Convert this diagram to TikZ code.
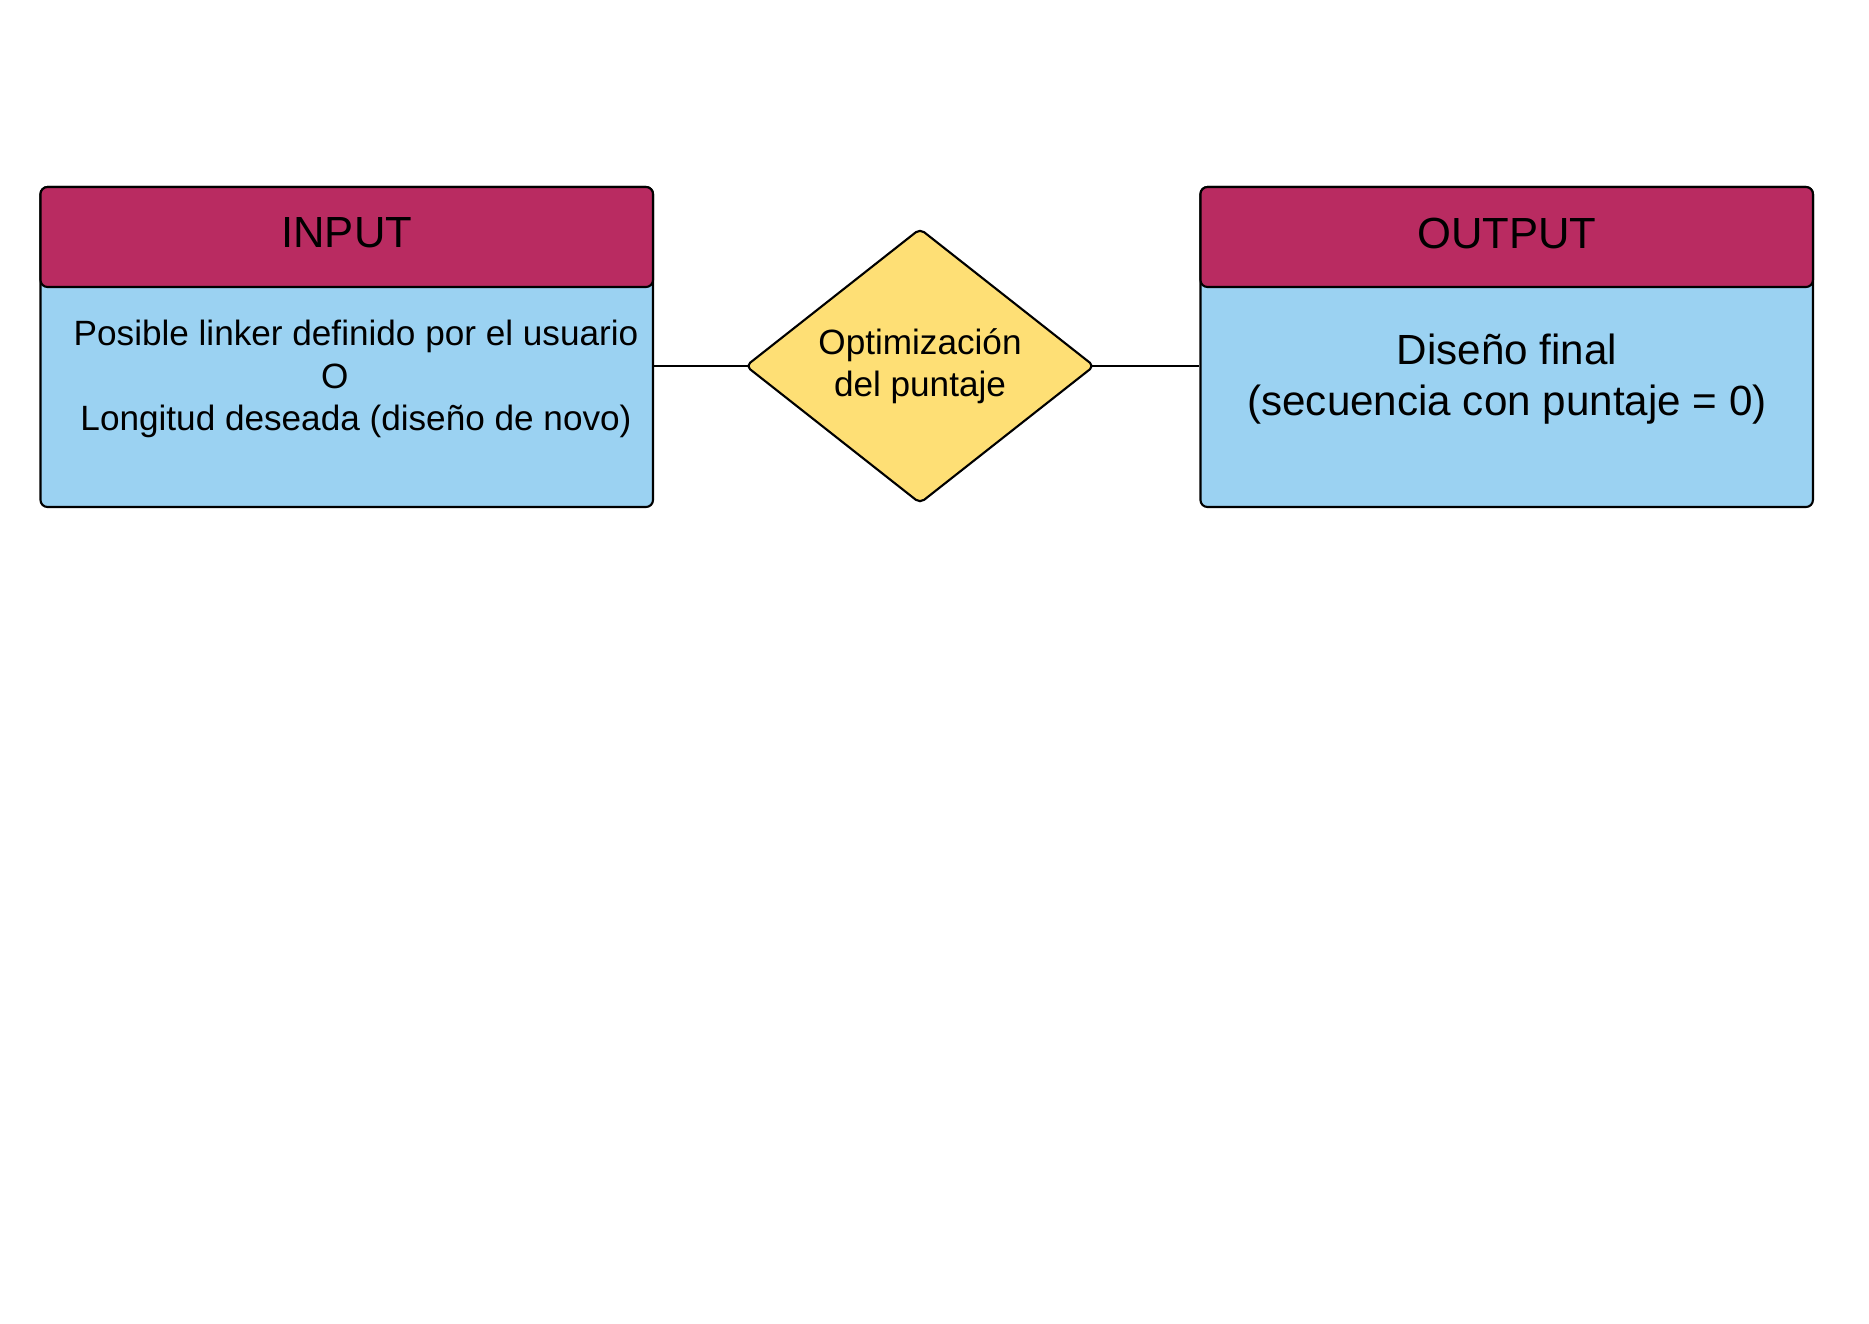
\documentclass[tikz,border=0pt]{standalone}
\usepackage{fontspec}
\setmainfont{Liberation Sans}
\usepackage{xcolor}
\usetikzlibrary{shapes.geometric}

\definecolor{headred}{RGB}{185,43,97}
\definecolor{bodyblue}{RGB}{155,210,242}
\definecolor{decyellow}{RGB}{254,223,117}

\begin{document}
\begin{tikzpicture}[x=0.1mm, y=-0.1mm,
        % Define styles for the boxes and the decision
        headbox/.style={draw, line width=0.6pt, rounded corners=2pt, fill=headred, minimum width=61.25mm, minimum height=10mm, inner sep=0pt},
        bodybox/.style={draw, line width=0.6pt, rounded corners=2pt, fill=bodyblue, minimum width=61.25mm, minimum height=32mm, inner sep=0pt},
        title/.style={font=\fontsize{12.4}{15}\selectfont},
        decision/.style={draw, line width=0.6pt, diamond, rounded corners=1.5pt, fill=decyellow, minimum width=34.9mm, minimum height=27.5mm, aspect=1.27, inner sep=0pt, align=center, font=\fontsize{10}{12.1}\selectfont},
        link/.style={line width=0.6pt}]

        % 0. Fix the page size
        \useasboundingbox (0,0) rectangle (1869,1323);

        % 1. Input box: body first, header on top
        \node[bodybox] (inbody) at (346.75, 347) {};
        \node[headbox] (inhead) at (346.75, 237) {};
        \node[title] (intitle) at (346.75, 233) {INPUT};
        \node[align=center, font=\fontsize{10}{12.2}\selectfont] (intext) at (356, 379)
            {Posible linker definido por el usuario\\ O\hspace{12pt}\null\\ Longitud deseada (diseño de novo)};

        % 2. Output box
        \node[bodybox] (outbody) at (1506.7, 347) {};
        \node[headbox] (outhead) at (1506.7, 237) {};
        \node[title] (outtitle) at (1506.7, 233) {OUTPUT};
        \node[align=center, font=\fontsize{12}{14.5}\selectfont] (outtext) at (1507, 379.5)
            {Diseño final\\ (secuencia con puntaje = 0)};

        % 3. Decision in the middle
        \node[decision] (optim) at (920, 366) {Optimización\\ del puntaje};

        % 4. Connectors (pulled onto the rounded tips)
        \draw[link, shorten >=-1.5pt] (inbody.east |- optim.west) -- (optim.west);
        \draw[link, shorten <=-1.5pt] (optim.east) -- (optim.east -| outbody.west);

    \end{tikzpicture}
\end{document}
